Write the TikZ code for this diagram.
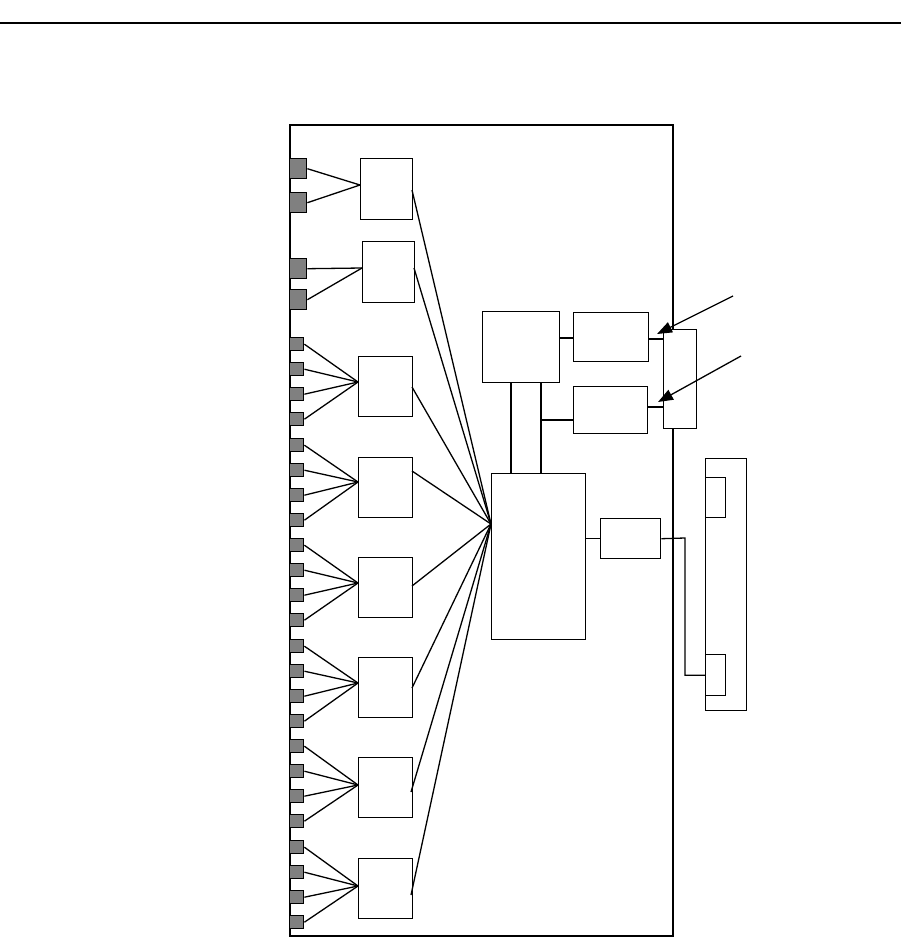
\documentclass[tikz,border=0pt]{standalone}
\usetikzlibrary{arrows.meta}
\begin{document}
\begin{tikzpicture}[x=1pt,y=-1pt,
  blk/.style={draw, line width=1.4pt, fill=white, inner sep=0pt, anchor=north west},
  port/.style={draw, line width=1.4pt, fill=gray, inner sep=0pt, anchor=north west},
  wire/.style={line width=1.3pt},
  arr/.style={line width=1.3pt, -{Triangle[length=15pt,width=11pt]}}]
\useasboundingbox (0,0) rectangle (901,938);
% top rule
\draw[line width=1.6pt] (0,23) -- (901,23);
% outer frame
\node[draw, line width=2.2pt, inner sep=0pt, anchor=north west, minimum width=383pt, minimum height=811pt] (frame) at (289,124) {};

% input boxes
\node[blk, minimum width=52pt, minimum height=61pt] (b1) at (360,158) {};
\node[blk, minimum width=52pt, minimum height=61pt] (b2) at (362,241) {};
\node[blk, minimum width=54pt, minimum height=60pt] (b3) at (358,356) {};
\node[blk, minimum width=54pt, minimum height=60pt] (b4) at (358,457) {};
\node[blk, minimum width=54pt, minimum height=60pt] (b5) at (358,557) {};
\node[blk, minimum width=54pt, minimum height=60pt] (b6) at (358,657) {};
\node[blk, minimum width=54pt, minimum height=60pt] (b7) at (358,757) {};
\node[blk, minimum width=54pt, minimum height=60pt] (b8) at (358,858) {};

% convergence points on box left sides
\coordinate (c1) at (360,185);
\coordinate (c2) at (362,268);
\coordinate (c3) at (358,382);
\coordinate (c4) at (358,482);
\coordinate (c5) at (358,583);
\coordinate (c6) at (358,683);
\coordinate (c7) at (358,785);
\coordinate (c8) at (358,886);

% big ports
\node[port, minimum width=17pt, minimum height=20pt] (p11) at (289,158) {};
\node[port, minimum width=17pt, minimum height=20pt] (p12) at (289,192) {};
\node[port, minimum width=17pt, minimum height=20pt] (p21) at (289,258) {};
\node[port, minimum width=17pt, minimum height=20pt] (p22) at (289,289) {};
\foreach \p in {p11,p12} \draw[wire] (\p.east) -- (c1);
\foreach \p in {p21,p22} \draw[wire] (\p.east) -- (c2);

% small ports
\foreach \g/\y in {3/337,4/438,5/538,6/639,7/739,8/840}{
  \foreach \i in {0,1,2,3}{
    \node[port, minimum width=14pt, minimum height=13pt] (p\g\i) at (289,\y+25*\i) {};
    \draw[wire] (p\g\i.east) -- (c\g);
  }
}

% central bus box
\node[blk, minimum width=94pt, minimum height=166pt] (M) at (491,473) {};
\coordinate (m) at (491,524);
% right attach points of input boxes
\coordinate (r1) at (412,190);
\coordinate (r2) at (414,268);
\coordinate (r3) at (412,387);
\coordinate (r4) at (412,471);
\coordinate (r5) at (412,586);
\coordinate (r6) at (412,688);
\coordinate (r7) at (411,792);
\coordinate (r8) at (411,895);
\foreach \r in {r1,r2,r3,r4,r5,r6,r7,r8} \draw[wire] (\r) -- (m);

% upper blocks
\node[blk, minimum width=77pt, minimum height=71pt] (T) at (482,311) {};
\node[blk, minimum width=75pt, minimum height=49pt] (A) at (573,312) {};
\node[blk, minimum width=74pt, minimum height=47pt] (B) at (573,386) {};
\node[blk, minimum width=33pt, minimum height=99pt] (I) at (663,329) {};
\coordinate (t1) at (511,382); \coordinate (m1) at (511,473);
\coordinate (t2) at (541,382); \coordinate (m2) at (541,473);
\draw[wire] (t1) -- (m1);
\draw[wire] (t2) -- (m2);
\draw[wire] (541,420) coordinate (bj) -- (bj -| B.west);
\draw[wire] (T.east |- 0,338) coordinate (ta) -- (ta -| A.west);
\draw[wire] (A.east |- 0,339) coordinate (ai) -- (ai -| I.west);
\draw[wire] (B.east |- 0,407) coordinate (bi) -- (bi -| I.west);

% arrows
\coordinate (a1) at (733,296);
\coordinate (a2) at (741,356);
\coordinate (h1) at (657,334);
\coordinate (h2) at (658,402);
\draw[arr] (a1) -- (h1);
\draw[arr] (a2) -- (h2);

% lower right
\node[blk, minimum width=60pt, minimum height=40pt] (C) at (600,518) {};
\draw[wire] (M.east |- C.west) -- (C.west);
\node[blk, minimum width=41pt, minimum height=252pt] (R) at (705,458) {};
\node[blk, minimum width=20pt, minimum height=40pt] (s1) at (705,477) {};
\node[blk, minimum width=20pt, minimum height=41pt] (s2) at (705,654) {};
\draw[wire] (C.east) -- (685,538) coordinate (k1) -- (k1 |- s2.west) -- (s2.west);
\end{tikzpicture}
\end{document}
